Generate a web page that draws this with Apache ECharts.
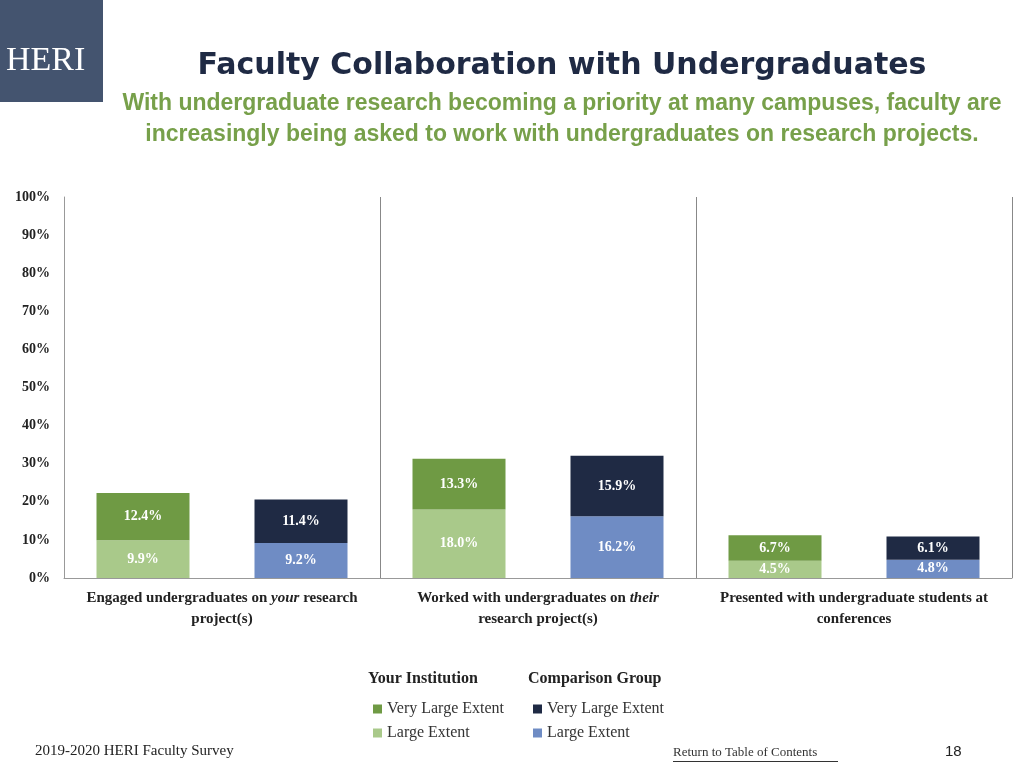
<!DOCTYPE html>
<html>
<head>
    <meta charset="UTF-8">
    <title>Faculty Collaboration with Undergraduates</title>
    <script src="https://cdn.jsdelivr.net/npm/echarts@6/dist/echarts.min.js"></script>
    <style>
        html, body { margin: 0; padding: 0; background: #fff; }
        #main { width: 1024px; height: 768px; }
    </style>
</head>
<body>
<div id="main"></div>
<script>
    var slots = ['a1', 'a2', 'b1', 'b2', 'c1', 'c2'];
    var groups = ['Engaged undergraduates on {i|your} research\nproject(s)',
                  'Worked with undergraduates on {i|their}\nresearch project(s)',
                  'Presented with undergraduate students at\nconferences'];
    var instLarge = [9.9, '-', 18.0, '-', 4.5, '-'];
    var instVeryLarge = [12.4, '-', 13.3, '-', 6.7, '-'];
    var compLarge = ['-', 9.2, '-', 16.2, '-', 4.8];
    var compVeryLarge = ['-', 11.4, '-', 15.9, '-', 6.1];

    var serif = 'Liberation Serif';
    var lbl = {
        show: true, position: 'inside',
        color: '#fff', fontFamily: serif, fontWeight: 'bold', fontSize: 14,
        formatter: function (p) { return p.value.toFixed(1) + '%'; }
    };
    function bar(name, data, color) {
        return { name: name, type: 'bar', stack: 'all', xAxisIndex: 0, barWidth: 93,
                 data: data, itemStyle: { color: color }, label: lbl };
    }

    var chart = echarts.init(document.getElementById('main'));
    chart.setOption({
        animation: false,
        grid: { left: 64, right: 12, top: 197, bottom: 190 },
        xAxis: [
            { type: 'category', data: slots, show: false },
            { type: 'category', data: groups, position: 'bottom',
              axisLine: { lineStyle: { color: '#999' } }, axisTick: { show: false },
              splitLine: { show: true, interval: function (i) { return i === 1 || i === 2; },
                           lineStyle: { color: '#888' } },
              axisLabel: { interval: 0, color: '#222', fontFamily: serif, fontWeight: 'bold', fontSize: 15,
                           lineHeight: 21, margin: 10,
                           rich: { i: { fontStyle: 'italic', fontFamily: serif, fontWeight: 'bold', fontSize: 15 } } } }
        ],
        yAxis: {
            type: 'value', min: 0, max: 100, interval: 10,
            axisLine: { show: true, lineStyle: { color: '#999' } },
            splitLine: { show: false },
            axisLabel: { formatter: '{value}%', color: '#222', fontFamily: serif, fontWeight: 'bold',
                         fontSize: 14, margin: 14 }
        },
        legend: [
            { left: 368, top: 696, orient: 'vertical', itemGap: 8, itemWidth: 9, itemHeight: 9,
              icon: 'rect', data: ['i|Very Large Extent', 'i|Large Extent'],
              formatter: function (n) { return n.split('|')[1]; },
              textStyle: { fontFamily: serif, fontSize: 16, color: '#333' } },
            { left: 528, top: 696, orient: 'vertical', itemGap: 8, itemWidth: 9, itemHeight: 9,
              icon: 'rect', data: ['c|Very Large Extent', 'c|Large Extent'],
              formatter: function (n) { return n.split('|')[1]; },
              textStyle: { fontFamily: serif, fontSize: 16, color: '#333' } }
        ],
        graphic: [
            { type: 'rect', left: 0, top: 0, shape: { width: 103, height: 102 }, style: { fill: '#44546f' } },
            { type: 'text', left: 6, top: 44, style: { text: 'HERI', fill: '#fff', font: '34px "Liberation Serif"' } },
            { type: 'text', style: { x: 562, y: 66, text: 'Faculty Collaboration with Undergraduates',
                fill: '#1f2a44', font: 'bold 30px "DejaVu Sans"', align: 'center', verticalAlign: 'middle' } },
            { type: 'text', style: { x: 562, y: 104, text: 'With undergraduate research becoming a priority at many campuses, faculty are',
                fill: '#77a04a', font: 'bold 23px "Liberation Sans"', align: 'center', verticalAlign: 'middle' } },
            { type: 'text', style: { x: 562, y: 135, text: 'increasingly being asked to work with undergraduates on research projects.',
                fill: '#77a04a', font: 'bold 23px "Liberation Sans"', align: 'center', verticalAlign: 'middle' } },
            { type: 'text', left: 368, top: 671, style: { text: 'Your Institution', fill: '#222', font: 'bold 16px "Liberation Serif"' } },
            { type: 'text', left: 528, top: 671, style: { text: 'Comparison Group', fill: '#222', font: 'bold 16px "Liberation Serif"' } },
            { type: 'text', left: 35, top: 744, style: { text: '2019-2020 HERI Faculty Survey', fill: '#222', font: '15px "Liberation Serif"' } },
            { type: 'text', left: 673, top: 746, style: { text: 'Return to Table of Contents', fill: '#333', font: '13px "Liberation Serif"' } },
            { type: 'rect', left: 673, top: 761, shape: { width: 165, height: 1 }, style: { fill: '#333' } },
            { type: 'text', left: 945, top: 744, style: { text: '18', fill: '#222', font: '15px "Liberation Sans"' } }
        ],
        series: [
            bar('i|Large Extent', instLarge, '#a9c98a'),
            bar('i|Very Large Extent', instVeryLarge, '#6f9a44'),
            bar('c|Large Extent', compLarge, '#6f8cc4'),
            bar('c|Very Large Extent', compVeryLarge, '#1f2a44')
        ]
    });
</script>
</body>
</html>
